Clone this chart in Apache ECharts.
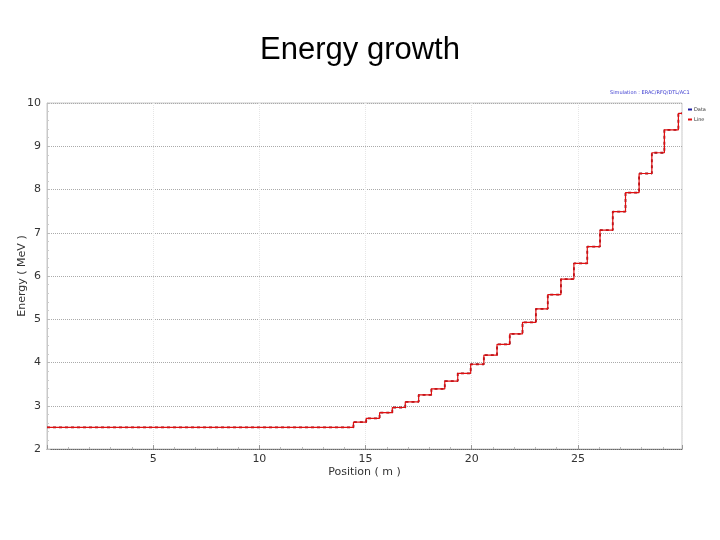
<!DOCTYPE html>
<html>
<head>
<meta charset="utf-8">
<script src="https://cdn.jsdelivr.net/npm/echarts@6/dist/echarts.min.js"></script>
<style>html,body{margin:0;padding:0;background:#fff}#c{width:720px;height:540px}</style>
</head>
<body>
<div id="c"></div>
<script>
// Step positions (m) where energy changes, and the energy (MeV) from that position onward
const stepPositions = [0, 14.43, 15.03, 15.66, 16.26, 16.87, 17.50, 18.10, 18.73, 19.34, 19.95, 20.57, 21.19, 21.79, 22.39, 23.02, 23.58, 24.20, 24.81, 25.44, 26.04, 26.64, 27.24, 27.88, 28.48, 29.07, 29.73, 29.9];
const stepEnergies  = [2.5, 2.62, 2.71, 2.84, 2.96, 3.09, 3.25, 3.39, 3.57, 3.75, 3.96, 4.17, 4.42, 4.66, 4.93, 5.24, 5.57, 5.93, 6.29, 6.68, 7.06, 7.49, 7.93, 8.37, 8.85, 9.38, 9.76, 9.76];
const seriesNames = ['Data', 'Line'];
const xTicks = [5, 10, 15, 20, 25];
const yTicks = [2, 3, 4, 5, 6, 7, 8, 9, 10];

const pts = stepPositions.map((x, i) => [x, stepEnergies[i]]);

const chart = echarts.init(document.getElementById('c'));
chart.setOption({
  animation: false,
  backgroundColor: '#fff',
  title: {
    text: 'Energy growth', left: 'center', top: 30,
    textStyle: { fontFamily: 'Liberation Sans', fontSize: 31, fontWeight: 'normal', color: '#000' }
  },
  graphic: [{
    type: 'text', left: 610, top: 90,
    style: { text: 'Simulation : ERAC/RFQ/DTL/AC1', fill: '#3a3ad0', fontSize: 5, fontFamily: 'DejaVu Sans' }
  }],
  legend: {
    orient: 'vertical', left: 683, top: 102, itemWidth: 4, itemHeight: 2, itemGap: 5,
    textStyle: { fontSize: 5, color: '#333', fontFamily: 'DejaVu Sans', padding: [0,0,0,-3] },
    data: [
      { name: seriesNames[0], icon: 'rect', itemStyle: { color: '#2020a0' } },
      { name: seriesNames[1], icon: 'rect', itemStyle: { color: '#e01010' } }
    ]
  },
  grid: { left: 47, right: 38, top: 103, bottom: 91, show: true, borderColor: '#c8c8c8', borderWidth: 1 },
  xAxis: {
    type: 'value', min: 0, max: 29.9, interval: 5,
    name: 'Position ( m )', nameLocation: 'middle', nameGap: 18, nameMoveOverlap: false,
    nameTextStyle: { fontFamily: 'DejaVu Sans', fontSize: 11, color: '#333' },
    axisLine: { show: true, lineStyle: { color: '#666', type: 'dotted', width: 1 } },
    axisTick: { show: true, inside: true, length: 4, lineStyle: { color: '#999' } },
    minorTick: { show: true, splitNumber: 5, length: 2, lineStyle: { color: '#bbb' } },
    axisLabel: { fontFamily: 'DejaVu Sans', fontSize: 11, color: '#333', margin: 5,
      formatter: v => xTicks.includes(v) ? String(v) : '' },
    splitLine: { show: true, lineStyle: { color: '#e6e6e6', type: 'dotted' } }
  },
  yAxis: {
    type: 'value', min: 2, max: 10, interval: 1,
    name: 'Energy ( MeV )', nameLocation: 'middle', nameGap: 19, nameMoveOverlap: false,
    nameTextStyle: { fontFamily: 'DejaVu Sans', fontSize: 11, color: '#333' },
    axisLine: { show: true, lineStyle: { color: '#c8c8c8' } },
    axisTick: { show: true, inside: true, length: 3, lineStyle: { color: '#bbb' } },
    minorTick: { show: true, splitNumber: 5, length: 2, lineStyle: { color: '#ccc' } },
    axisLabel: { fontFamily: 'DejaVu Sans', fontSize: 11, color: '#333', margin: 6,
      formatter: v => yTicks.includes(v) ? String(v) : '' },
    splitLine: { show: true, lineStyle: { color: '#aaa', type: 'dotted' } }
  },
  series: [
    {
      name: seriesNames[0], type: 'line', step: 'end', data: pts, showSymbol: false,
      lineStyle: { color: '#8a1020', width: 1.8, type: [3, 3] }, itemStyle: { color: '#2020a0' }, z: 2
    },
    {
      name: seriesNames[1], type: 'line', step: 'end', data: pts, showSymbol: false,
      lineStyle: { color: '#e01010', width: 1.2 }, itemStyle: { color: '#e01010' }, z: 3
    }
  ]
});
</script>
</body>
</html>
